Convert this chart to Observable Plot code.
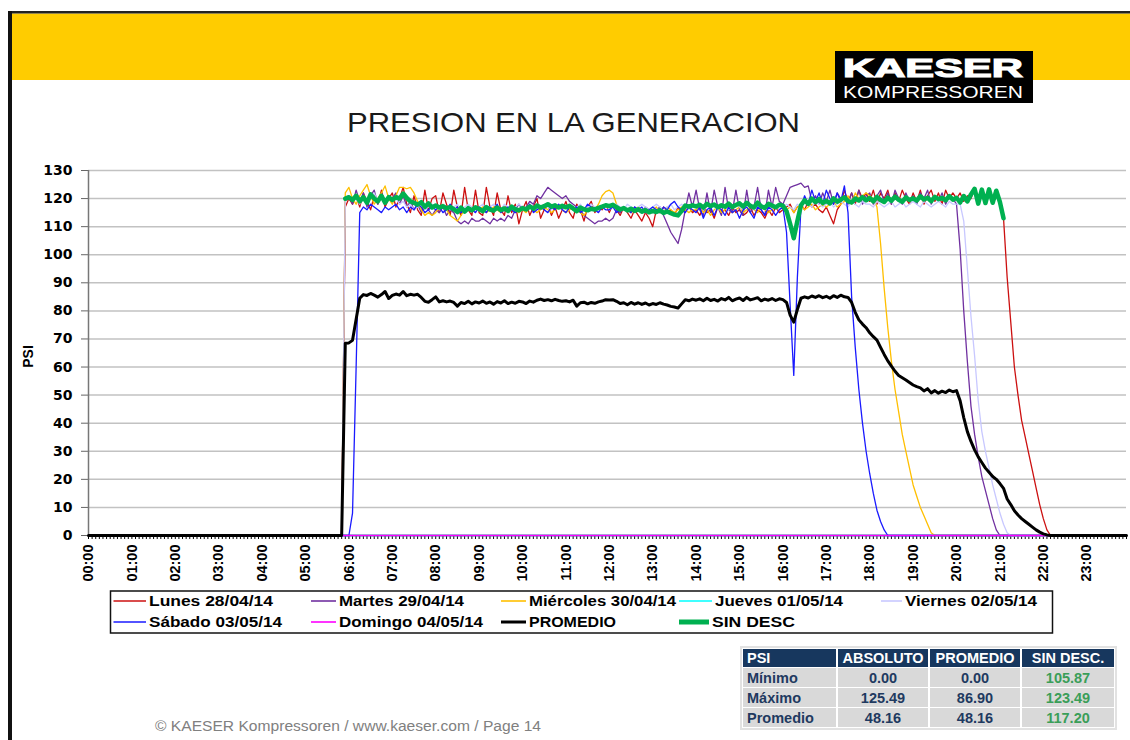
<!DOCTYPE html>
<html>
<head>
<meta charset="utf-8">
<script src="https://cdn.jsdelivr.net/npm/d3@7"></script>
<script src="https://cdn.jsdelivr.net/npm/@observablehq/plot@0.6"></script>
<style>
  html, body { margin: 0; padding: 0; background: #fff; }
  #page { position: relative; width: 1130px; height: 740px; overflow: hidden; font-family: "Liberation Sans", Arial, sans-serif; background: #fff; }
  #page svg.deco { position: absolute; left: 0; top: 0; pointer-events: none; }
  #chart { position: absolute; left: 0; top: 160px; }
  #chart g[aria-label="y-axis tick label"] { font-family: "DejaVu Sans", sans-serif; font-weight: bold; font-size: 14px; }
  #chart g[aria-label="x-axis tick label"] { font-family: "Liberation Sans", Arial, sans-serif; font-weight: bold; font-size: 14.5px; }
</style>
</head>
<body>
<div id="page"><div id="chart"></div></div>
<script>
// ---------------- DATA ----------------
// Samples every 5 minutes from 05:45 to 22:10; before and after, all series are 0.
const firstSample = 345;   // 05:45 in minutes
const sampleStep = 5;      // minutes
const dayStart = 0;        // 00:00
const dayEnd = 1435;       // 23:55

const hourLabels = ["00:00","01:00","02:00","03:00","04:00","05:00","06:00","07:00","08:00","09:00","10:00","11:00",
  "12:00","13:00","14:00","15:00","16:00","17:00","18:00","19:00","20:00","21:00","22:00","23:00"];
const yTicks = [0,10,20,30,40,50,60,70,80,90,100,110,120,130];

const lunes = [0, 0, 117,
 120, 118, 121, 117, 122, 119, 116, 121, 118, 123, 117, 120,
 122, 117, 120, 124, 118, 115, 121, 116, 114, 123, 116, 120,
 121, 115, 122, 118, 114, 123, 117, 114, 124, 116, 114, 123,
 115, 114, 124, 117, 114, 122, 116, 114, 121, 115, 118, 111,
 116, 119, 114, 117, 120, 113, 116, 118, 114, 117, 113, 116,
 119, 115, 113, 118, 116, 112, 117, 119, 115, 117, 116, 118,
 115, 118, 116, 114, 117, 115, 113, 116, 114, 112, 115, 113,
 110, 116, 115, 117, 115, 116, 114, 117, 115, 116, 117, 115,
 116, 114, 117, 115, 116, 113, 117, 115, 116, 114, 117, 115,
 116, 114, 115, 117, 114, 116, 115, 113, 116, 114, 117, 115,
 116, 117, 118, 115, 117, 118, 116, 119, 117, 118, 116, 115,
 117, 114, 111, 116, 118, 123, 119, 122, 118, 123, 120, 122,
 119, 123, 118, 122, 120, 123, 118, 122, 119, 123, 120, 118,
 122, 119, 123, 118, 121, 123, 119, 122, 118, 123, 120, 122,
 120, 122, 119, 121, 120, 123.5, 118.2, 123.2, 118.4, 123.3, 118.5, 122.8,
 118.8, 113, 92, 76, 60, 50, 41, 35, 29, 23, 17, 11,
 6, 2, 0];

const martes = [0, 0, 119,
 121, 118, 123, 119, 122, 117, 121, 123, 118, 122, 119, 121,
 120, 122, 118, 121, 117, 119, 116, 118, 115, 117, 116, 114,
 116, 115, 117, 114, 116, 115, 112, 111, 112, 111, 113, 112,
 112, 113, 112, 111, 113, 112, 113, 112, 114, 113, 116, 118,
 116, 117, 119, 118, 121, 120, 122, 124, 123, 122, 121, 120,
 121, 119, 118, 117, 116, 114, 113, 112, 111, 112, 112, 113,
 112, 113, 116, 115, 117, 116, 115, 117, 116, 115, 117, 116,
 115, 116, 117, 114, 111, 108, 106, 104, 109, 116, 122, 117,
 123, 116, 114, 122, 115, 123, 117, 114, 124, 116, 115, 123,
 116, 114, 123, 115, 117, 124, 116, 114, 123, 117, 124, 119,
 118, 121, 124, 124.5, 125, 125.49, 124, 124.5, 119, 121, 118, 122,
 119, 123, 118, 122, 120, 121, 118, 122, 119, 123, 118, 121,
 122, 118, 121, 123, 119, 122, 118, 123, 120, 118, 122, 119,
 121, 118, 122, 120, 123, 118, 121, 119, 122, 118, 121, 120,
 118, 102, 80, 62, 46, 36, 28, 21, 16, 11, 6, 2,
 0, 0, 0, 0, 0, 0, 0, 0, 0, 0, 0, 0,
 0, 0, 0];

const miercoles = [0, 0, 122,
 124, 120, 118, 121, 123, 125, 121, 118, 120, 122, 124.5, 120,
 118, 121, 124, 124, 123.5, 124, 122, 119, 116, 114, 115, 114,
 115, 117, 118, 116, 114, 113, 112, 114, 116, 117, 116, 117,
 116, 117, 115, 116, 117, 116, 115, 117, 116, 117, 116, 115,
 116, 115, 117, 116, 115, 116, 117, 116, 115, 116, 117, 116,
 115, 116, 117, 116, 115, 114, 116, 117, 116, 118, 121, 122.5,
 123, 122, 118, 116, 117, 116, 115, 116, 117, 116, 115, 116,
 116, 117, 115, 116, 117, 116, 115, 116, 117, 116, 115, 116,
 116, 117, 115, 116, 114, 116, 117, 115, 116, 117, 115, 116,
 117, 115, 116, 117, 116, 115, 117, 116, 115, 116, 117, 116,
 117, 116, 117, 115, 117, 118, 116, 117, 118, 116, 117, 118,
 117, 118, 119, 117, 118, 119, 121, 118, 122, 120, 121, 122,
 121, 120, 117, 104, 88, 74, 62, 52, 44, 36, 30, 24,
 18, 14, 10, 7, 4, 1, 0, 0, 0, 0, 0, 0,
 0, 0, 0, 0, 0, 0, 0, 0, 0, 0, 0, 0,
 0, 0, 0, 0, 0, 0, 0, 0, 0, 0, 0, 0,
 0, 0, 0];

const jueves = [0, 0];   // at 00:00 and 23:55: no production all day
const domingo = [0, 0];  // at 00:00 and 23:55: no production all day

const viernes = [0, 0, 120,
 121, 119, 120, 118, 121, 119, 120, 122, 119, 120, 118, 121,
 119, 120, 118, 119, 117, 118, 116, 117, 118, 116, 117, 118,
 117, 116, 118, 117, 116, 117, 118, 116, 117, 118, 117, 116,
 117, 118, 116, 117, 118, 117, 116, 118, 117, 116, 117, 118,
 117, 116, 118, 117, 116, 117, 118, 117, 116, 118, 117, 116,
 117, 118, 116, 117, 118, 116, 117, 118, 117, 116, 117, 118,
 116, 117, 118, 117, 116, 118, 117, 116, 117, 118, 117, 116,
 117, 118, 117, 116, 117, 118, 116, 117, 118, 117, 116, 117,
 118, 117, 116, 117, 118, 117, 116, 118, 117, 116, 117, 118,
 117, 116, 118, 117, 116, 117, 118, 117, 116, 118, 117, 116,
 117, 118, 117, 116, 118, 117, 119, 118, 117, 119, 118, 117,
 118, 119, 117, 118, 119, 118, 117, 119, 118, 117, 119, 118,
 118, 117, 119, 118, 117, 118, 119, 117, 118, 119, 117, 118,
 119, 118, 117, 119, 118, 117, 118, 119, 118, 117, 119, 118,
 118, 118, 112, 95, 78, 64, 48, 37, 30, 24, 18, 13,
 8, 4, 1, 0, 0, 0, 0, 0, 0, 0, 0, 0,
 0, 0, 0];

const sabado = [0, 0, 0,
 0, 8, 60, 115, 117, 116, 118, 117, 116, 115, 117, 116,
 117, 118, 116, 117, 115, 117, 116, 118, 117, 115, 116, 117,
 116, 117, 115, 116, 118, 116, 117, 115, 116, 117, 116, 115,
 117, 116, 115, 117, 116, 118, 115, 116, 117, 116, 115, 116,
 117, 116, 118, 115, 116, 117, 116, 115, 117, 116, 118, 116,
 115, 117, 116, 117, 115, 116, 118, 117, 116, 115, 117, 116,
 116, 117, 115, 116, 117, 116, 115, 117, 116, 117, 115, 116,
 117, 116, 115, 117, 116, 118, 119, 117, 116, 115, 117, 116,
 115, 117, 113, 116, 117, 114, 117, 116, 114, 117, 115, 116,
 113, 116, 117, 115, 113, 117, 116, 114, 117, 116, 114, 116,
 117, 108, 82, 57, 92, 117, 121, 118, 123, 119, 122, 118,
 123, 120, 118, 122, 119, 124.5, 115, 85, 67, 52, 40, 30,
 22, 15, 9, 5, 2, 0, 0, 0, 0, 0, 0, 0,
 0, 0, 0, 0, 0, 0, 0, 0, 0, 0, 0, 0,
 0, 0, 0, 0, 0, 0, 0, 0, 0, 0, 0, 0,
 0, 0, 0, 0, 0, 0, 0, 0, 0, 0, 0, 0,
 0, 0, 0];

const promedio = [0, 0, 68.5,
 68.6, 69.5, 77, 84.5, 85.8, 85.5, 86.2, 85.6, 84.9, 85.8, 86.9, 84.4,
 85.5, 86, 85.6, 86.9, 85.4, 85.9, 85.6, 85.9, 84.8, 83.4, 83.1, 84,
 85, 83.2, 83.6, 83.2, 83.5, 83, 81.7, 83, 82.6, 83.4, 82.5, 83.2,
 82.8, 83.5, 82.7, 83.2, 82.4, 83.3, 82.8, 83.6, 82.6, 83.1, 82.7, 83.4,
 83.2, 82.6, 83.5, 83.1, 83.8, 84.2, 83.7, 84, 83.6, 84.1, 83.7, 83.4,
 83.6, 83.2, 83.8, 81.7, 82.9, 83.1, 82.5, 83, 82.7, 83.2, 83.5, 84,
 83.9, 84, 83.4, 82.6, 82.9, 82.2, 83, 82.4, 82.9, 82.3, 82.8, 82.1,
 82.6, 82.3, 82.9, 82.4, 82.1, 81.6, 81.4, 81, 82.5, 84, 83.6, 84.2,
 83.8, 84.3, 83.6, 84.5, 83.7, 84.1, 83.5, 84.4, 83.9, 84.8, 83.6, 84.2,
 84.6, 83.7, 84.8, 83.9, 84.3, 84.7, 83.6, 84.2, 83.8, 84.4, 83.7, 84.3,
 84, 83, 78.5, 76, 80.5, 84.5, 85, 84.6, 85.3, 84.8, 85.4, 84.7,
 85.2, 84.5, 85.4, 84.8, 85.6, 85, 84.8, 83, 79.5, 76.8, 75.3, 74,
 72.2, 70.8, 69.6, 67, 64.5, 62.2, 60.3, 58.5, 57, 56.2, 55.4, 54.5,
 53.6, 53, 52.6, 51.5, 52.3, 50.8, 51.6, 50.7, 51.4, 50.9, 51.8, 51.2,
 51.6, 48, 42, 37, 33.5, 30.5, 28, 26, 24, 22.5, 21, 20,
 18.5, 16.8, 13, 11, 8.8, 7.3, 6, 5, 4, 3, 2, 1.2,
 0.6, 0.2, 0];

const sinDesc = [null, null, 120,
 120.5, 119.5, 121, 119, 120.5, 118.5, 121.5, 120, 119, 121, 118.5, 120.5,
 119.5, 120.5, 120, 121.8, 120.2, 119, 118.5, 117.8, 118.7, 117, 118.3, 116.8,
 117.5, 116.8, 117.3, 116.5, 117, 116.2, 115.2, 116.8, 115.4, 116.6, 115.8, 116.9,
 116.3, 115.5, 117, 116.1, 115.7, 116.8, 115.9, 116.5, 115.6, 117.1, 116.2, 115.8,
 116.6, 116.1, 117.2, 116.4, 117.5, 116.8, 117.3, 118, 117.1, 117.6, 116.8, 117.4,
 116.9, 117.4, 116.5, 115.5, 116.8, 116.2, 115.8, 116.4, 116.1, 116.7, 117.1, 117.6,
 117.3, 117.8, 116.9, 116.1, 116.6, 115.8, 116.4, 115.6, 116.2, 115.3, 115.9, 115.1,
 115.6, 115.2, 115.8, 114.9, 115.4, 114.8, 114.3, 114, 115.6, 117.5, 117.1, 117.6,
 117.2, 117.8, 116.8, 118.1, 117.3, 117.9, 116.9, 117.6, 117.1, 118.2, 117, 117.7,
 118.3, 117.1, 118.5, 117.4, 116.8, 118.6, 117.2, 116.7, 118.1, 117.5, 116.9, 117.8,
 117.5, 115.5, 111, 105.87, 112, 117.6, 119.4, 118.1, 120, 118.7, 119.8, 118.4,
 119.2, 118.3, 120.1, 118.9, 119.6, 120.4, 119.1, 118.6, 120, 119.3, 120.5, 119.4,
 120.2, 119, 120.6, 119.5, 118.8, 120.3, 119.2, 120.7, 119.6, 118.9, 120.4, 119.5,
 120.1, 119.3, 120.8, 119.7, 120.3, 119.1, 120.6, 119.8, 120.2, 119.4, 120.9, 119.6,
 120.3, 118.6, 120.9, 119, 121.5, 123.49, 118.2, 123.2, 118.4, 123.3, 118.5, 122.8,
 118.8, 113, null, null, null, null, null, null, null, null, null, null,
 null, null, null];

const seriesNames = ["Lunes 28/04/14", "Martes 29/04/14", "Miércoles 30/04/14", "Jueves 01/05/14", "Viernes 02/05/14",
  "Sábado 03/05/14", "Domingo 04/05/14", "PROMEDIO", "SIN DESC"];
const seriesColors = ["#cc1010", "#7030a0", "#ffbf00", "#00ffff", "#c8c8ff", "#1a1aff", "#ff00ff", "#000000", "#00b050"];
const seriesWidths = [1.3, 1.3, 1.3, 1.3, 1.3, 1.3, 1.3, 3, 4.5];

const tableHeader = ["PSI", "ABSOLUTO", "PROMEDIO", "SIN DESC."];
const tableRowLabels = ["Mínimo", "Máximo", "Promedio"];
const statAbsoluto = ["0.00", "125.49", "48.16"];
const statPromedio = ["0.00", "86.90", "48.16"];
const statSinDesc = ["105.87", "123.49", "117.20"];

// ---------------- BUILD ----------------
const sampleValues = [lunes, martes, miercoles, null, viernes, sabado, null, promedio, sinDesc];
const zeroAllDay = {3: jueves, 6: domingo};

function rowsFor(k) {
  if (zeroAllDay[k]) return [{t: dayStart, v: zeroAllDay[k][0]}, {t: dayEnd, v: zeroAllDay[k][1]}];
  const vals = sampleValues[k];
  const rows = vals.map((v, i) => ({t: firstSample + i * sampleStep, v}));
  if (k !== 8) { rows.unshift({t: dayStart, v: 0}); rows.push({t: dayEnd, v: 0}); }
  return rows;
}

const hourTicks = hourLabels.map((_, i) => i * 60);
const minorTicks = d3.range(dayStart, dayEnd + 1, sampleStep);

const lineMarks = seriesNames.map((name, k) =>
  Plot.line(rowsFor(k), {x: "t", y: "v", stroke: seriesColors[k], strokeWidth: seriesWidths[k], strokeLinejoin: "round", strokeLinecap: "round"}));

const chart = Plot.plot({
  width: 1130,
  height: 430,
  marginLeft: 88,
  marginRight: 4,
  marginTop: 10,
  marginBottom: 55,
  x: {type: "linear", domain: [dayStart, dayEnd]},
  y: {domain: [0, 130]},
  style: {background: "transparent", fontFamily: "Liberation Sans, Arial, sans-serif", color: "#000", overflow: "visible"},
  marks: [
    Plot.ruleY(yTicks.filter(d => d > 0), {stroke: "#c2c2c2", strokeWidth: 1.5}),
    Plot.axisY({ticks: yTicks, tickSize: 7, tickPadding: 9, label: null, stroke: "#666", fill: "#000"}),
    Plot.ruleX([dayStart], {y1: 0, y2: 130, stroke: "#777", strokeWidth: 1.5}),
    Plot.axisX({ticks: minorTicks, tickSize: 4, tickFormat: () => "", label: null, stroke: "#000"}),
    Plot.axisX({ticks: hourTicks, tickSize: 0, tickPadding: 9, tickRotate: -90, tickFormat: d => hourLabels[d / 60], label: null, fill: "#000"}),
    Plot.ruleY([0], {stroke: "#000", strokeWidth: 1.5}),
    ...lineMarks
  ]
});
document.getElementById("chart").appendChild(chart);

// ---------------- DECORATION (page frame, title, legend, table, footer) ----------------
const deco = d3.select("#page").append("svg").attr("class", "deco").attr("width", 1130).attr("height", 740);
const FONT = "Liberation Sans, Arial, sans-serif";

deco.append("rect").attr("x", 12).attr("y", 13.5).attr("width", 1118).attr("height", 66.5).attr("fill", "#ffcc00");
deco.append("rect").attr("x", 8).attr("y", 11).attr("width", 1122).attr("height", 2.5).attr("fill", "#222");
deco.append("rect").attr("x", 8).attr("y", 11).attr("width", 4).attr("height", 729).attr("fill", "#111");

// logo
deco.append("rect").attr("x", 835).attr("y", 51).attr("width", 198).attr("height", 52).attr("fill", "#000");
function txt(s, x, y, size, opts = {}) {
  const t = deco.append("text").attr("x", x).attr("y", y).text(s)
    .attr("font-family", opts.family || FONT).attr("font-size", size)
    .attr("font-weight", opts.weight || "normal").attr("fill", opts.fill || "#000");
  if (opts.anchor) t.attr("text-anchor", opts.anchor);
  if (opts.len) t.attr("textLength", opts.len).attr("lengthAdjust", "spacingAndGlyphs");
  if (opts.stroke) t.attr("stroke", opts.stroke).attr("stroke-width", opts.strokeWidth || 1);
  return t;
}
txt("KAESER", 843, 77, 26.5, {weight: "bold", fill: "#fff", len: 180, stroke: "#fff", strokeWidth: 1.2});
txt("KOMPRESSOREN", 843, 98, 16.5, {fill: "#fff", len: 180});

// title
txt("PRESION EN LA GENERACION", 347, 132, 28, {fill: "#1a1a1a", len: 453});

// y-axis label
deco.append("text").attr("transform", "translate(33,356.5) rotate(-90)").attr("text-anchor", "middle")
  .attr("font-family", FONT).attr("font-size", 14).attr("font-weight", "bold").attr("fill", "#000").text("PSI");

// legend
deco.append("rect").attr("x", 110.5).attr("y", 591).attr("width", 942).attr("height", 42)
  .attr("fill", "#fff").attr("stroke", "#111").attr("stroke-width", 1.5);
const legendLayout = [
  [113.5, 146, 149, 606, 124], [311, 336, 339, 606, 125], [501, 526, 529, 606, 147], [679, 712, 715, 606, 128], [881, 902, 905, 606, 132],
  [113.5, 146, 149, 627, 133], [311, 336, 339, 627, 144], [501, 526, 529, 627, 87], [679, 709, 712, 627, 83]
];
seriesNames.forEach((name, k) => {
  const [x1, x2, tx, ty, len] = legendLayout[k];
  deco.append("line").attr("x1", x1).attr("x2", x2).attr("y1", ty - 5).attr("y2", ty - 5)
    .attr("stroke", seriesColors[k]).attr("stroke-width", k === 7 ? 3 : (k === 8 ? 5 : 1.6));
  txt(name, tx, ty, 14, {weight: "bold", len});
});

// stats table
const colX = [743, 838, 930, 1022], colW = [93, 90, 90, 92];
const rowY = [649, 668, 688, 708], rowH = [18, 19, 19, 19];
deco.append("rect").attr("x", 741).attr("y", 647).attr("width", 375).attr("height", 82)
  .attr("fill", "#fff").attr("stroke", "#e2e2e2").attr("stroke-width", 2);
tableHeader.forEach((h, c) => {
  deco.append("rect").attr("x", colX[c]).attr("y", rowY[0]).attr("width", colW[c]).attr("height", rowH[0]).attr("fill", "#17375e");
  if (c === 0) txt(h, colX[c] + 4, rowY[0] + 14, 14.5, {weight: "bold", fill: "#fff"});
  else txt(h, colX[c] + colW[c] / 2, rowY[0] + 14, 14.5, {weight: "bold", fill: "#fff", anchor: "middle"});
});
const statCols = [statAbsoluto, statPromedio, statSinDesc];
tableRowLabels.forEach((lab, r) => {
  const y = rowY[r + 1], h = rowH[r + 1];
  for (let c = 0; c < 4; c++) {
    deco.append("rect").attr("x", colX[c]).attr("y", y).attr("width", colW[c]).attr("height", h).attr("fill", "#d9d9d9");
  }
  txt(lab, colX[0] + 4, y + 15, 14.5, {weight: "bold", fill: "#1f3a60"});
  statCols.forEach((col, j) => {
    txt(col[r], colX[j + 1] + colW[j + 1] / 2, y + 15, 14.5,
      {weight: "bold", fill: j === 2 ? "#3a9e58" : "#1f3a60", anchor: "middle"});
  });
});

// footer
txt("© KAESER Kompressoren / www.kaeser.com / Page 14", 155, 731, 14, {fill: "#808080", len: 386});
</script>
</body>
</html>
